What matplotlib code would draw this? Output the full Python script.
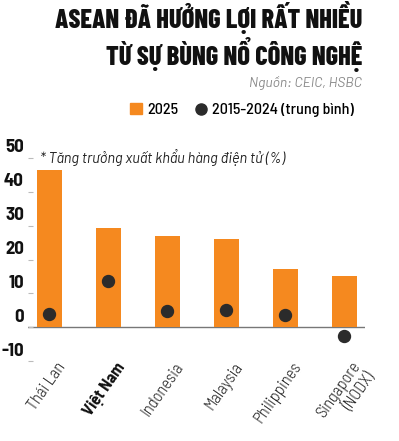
import matplotlib.pyplot as plt
from matplotlib.lines import Line2D
from matplotlib.patches import Patch
from matplotlib.transforms import ScaledTranslation

# data
countries = ['Thái Lan', 'Việt Nam', 'Indonesia', 'Malaysia', 'Philippines', 'Singapore\n(NODX)']
growth_2025 = [46.5, 29.4, 26.8, 26.2, 17.1, 15.0]
avg_2015_2024 = [3.8, 13.5, 4.7, 5.0, 3.5, -2.6]
yticks = [-10, 0, 10, 20, 30, 40, 50]

orange = '#F5891F'
dark = '#2B2B2B'
cond = ['Barlow Condensed', 'Roboto Condensed', 'DejaVu Sans']
semi = ['Barlow Semi Condensed', 'Roboto Condensed', 'DejaVu Sans']
plt.rcParams['font.family'] = ['Barlow', 'Roboto', 'DejaVu Sans']

fig = plt.figure(figsize=(3.99, 4.41), dpi=100)
ax = fig.add_axes([28 / 399, 80 / 441, 337 / 399, 203 / 441])

x = list(range(len(countries)))
ax.bar(x, growth_2025, width=0.42, color=orange, zorder=2)
ax.plot(x, avg_2015_2024, 'o', color=dark, markersize=8.6, zorder=3)
ax.axhline(0, color='#777777', lw=1, zorder=1)

ax.set_xlim(-0.36, 5.35)
ax.set_ylim(-10, 50)
for s in ax.spines.values():
    s.set_visible(False)

ax.set_yticks(yticks)
ax.set_yticklabels([])
ax.tick_params(axis='y', direction='in', length=3.5, color='#BBBBBB', width=0.8)
for v in yticks:
    ax.annotate(str(v), xy=(0, v), xycoords=('axes fraction', 'data'),
                xytext=(-4, 10), textcoords='offset pixels', ha='right', va='center',
                fontsize=13.5, fontweight='bold', color='#111111', family=semi)

ax.set_xticks(x)
ax.set_xticklabels(countries, rotation=55, ha='right', rotation_mode='anchor',
                   fontsize=12, fontweight=300, color='#222222', linespacing=1.15,
                   family=semi)
ax.tick_params(axis='x', length=0, pad=1)
shift = ScaledTranslation(7 / 100, 3 / 100, fig.dpi_scale_trans)
for lab in ax.get_xticklabels():
    lab.set_transform(lab.get_transform() + shift)
ax.get_xticklabels()[1].set_fontweight('bold')
ax.get_xticklabels()[1].set_color('#111111')

# titles and notes
fig.text(362 / 399, 1 - 18 / 441, 'ASEAN ĐÃ HƯỞNG LỢI RẤT NHIỀU', ha='right', va='center',
         fontsize=19, fontweight=800, color='#111111', family=cond)
fig.text(362 / 399, 1 - 55 / 441, 'TỪ SỰ BÙNG NỔ CÔNG NGHỆ', ha='right', va='center',
         fontsize=19, fontweight=800, color='#111111', family=cond)
fig.text(362 / 399, 1 - 83 / 441, 'Nguồn: CEIC, HSBC', ha='right', va='center',
         fontsize=10, style='italic', color='#8A8A8A')

handles = [Patch(color=orange), Line2D([], [], marker='o', ls='', color=dark, markersize=8)]
fig.legend(handles, ['2025', '2015-2024 (trung bình)'], loc='center right',
           bbox_to_anchor=(368 / 399, 1 - 110 / 441), ncol=2, frameon=False,
           prop={'family': semi, 'size': 11.5, 'weight': 500},
           handlelength=0.8, handletextpad=0.3, columnspacing=1.0)

ax.text(0.035, 1.0, '* Tăng trưởng xuất khẩu hàng điện tử (%)', transform=ax.transAxes,
        ha='left', va='center', fontsize=10.5, style='italic', color='#222222')

plt.savefig('out.png', dpi=100)
